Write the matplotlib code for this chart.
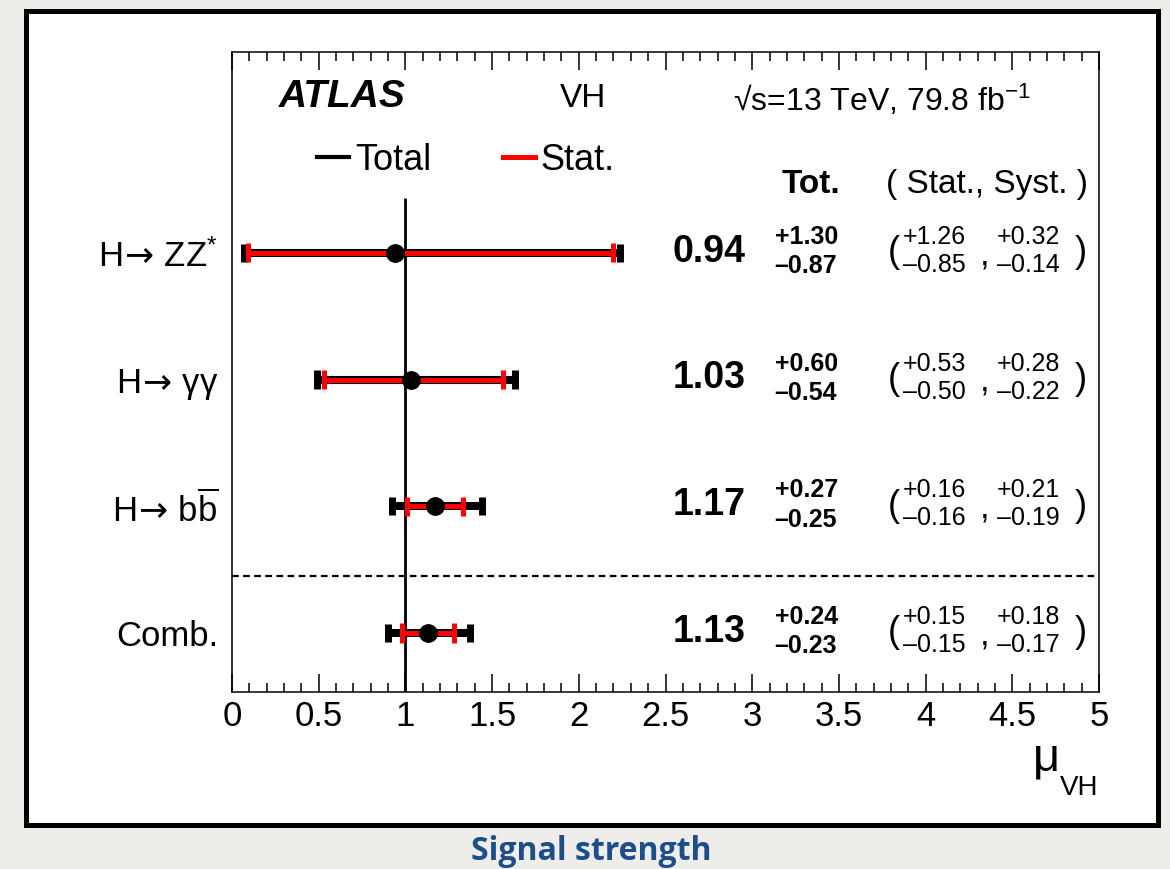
import matplotlib
matplotlib.use("Agg")
import matplotlib.pyplot as plt
from matplotlib.patches import Rectangle
from matplotlib.lines import Line2D

plt.rcParams['font.family'] = ['Liberation Sans', 'DejaVu Sans']
plt.rcParams['mathtext.fontset'] = 'custom'
plt.rcParams['mathtext.rm'] = 'Liberation Sans'
plt.rcParams['mathtext.it'] = 'Liberation Sans:italic'
plt.rcParams['mathtext.bf'] = 'Liberation Sans:bold'
plt.rcParams['mathtext.sf'] = 'DejaVu Sans'
plt.rcParams['mathtext.fallback'] = 'stixsans'

# signal strength per channel (top to bottom)
arrow = "H$\\!\\mathsf{\\rightarrow}\\!$ "
channels = [arrow + "ZZ$^{*}$", arrow + "\u03b3\u03b3",
            arrow + "b$\\overline{\\mathrm{b}}$", "Comb."]
mu = [0.94, 1.03, 1.17, 1.13]
tot_up = [1.30, 0.60, 0.27, 0.24]
tot_dn = [0.87, 0.54, 0.25, 0.23]
stat_up = [1.26, 0.53, 0.16, 0.15]
stat_dn = [0.85, 0.50, 0.16, 0.15]
syst_up = [0.32, 0.28, 0.21, 0.18]
syst_dn = [0.14, 0.22, 0.19, 0.17]

rows = [3, 2, 1, 0]
W, H = 1170, 869

fig = plt.figure(figsize=(W / 100, H / 100), dpi=100)
fig.patch.set_facecolor('#efedea')

# white panel with heavy black frame
frame = Rectangle((25.5 / W, 1 - 825 / H), 1132 / W, 814.5 / H,
                  transform=fig.transFigure, facecolor='white',
                  edgecolor='black', lw=3.6, zorder=-1)
fig.patches.append(frame)

ax = fig.add_axes([232 / W, 1 - 692 / H, 867 / W, 640 / H])
ax.set_zorder(1)
ax.set_xlim(0, 5)
ax.set_ylim(-0.466, 4.585)

for s in ax.spines.values():
    s.set_linewidth(1.1)

ax.set_xticks([0, 0.5, 1, 1.5, 2, 2.5, 3, 3.5, 4, 4.5, 5])
ax.set_xticklabels(['0', '0.5', '1', '1.5', '2', '2.5', '3', '3.5', '4', '4.5', '5'])
ax.set_xticks([i / 10 for i in range(51)], minor=True)
ax.tick_params(axis='x', which='major', direction='in', length=13, width=1.1,
               top=True, labelsize=25, pad=6)
ax.tick_params(axis='x', which='minor', direction='in', length=6.5, width=1.1, top=True)

ax.set_yticks(rows)
ax.set_yticklabels(channels)
ax.tick_params(axis='y', length=0, labelsize=25, pad=10)

# reference line at mu = 1 and separator above the combination
ax.vlines(1, -0.466, 3.43, color='black', lw=2.0, zorder=2)
ax.axhline(0.45, color='black', lw=1.6, ls=(0, (3, 2)), zorder=2)

for i, y in enumerate(rows):
    lo_t, hi_t = mu[i] - tot_dn[i], mu[i] + tot_up[i]
    lo_s, hi_s = mu[i] - stat_dn[i], mu[i] + stat_up[i]
    ax.hlines(y, lo_t, hi_t, color='black', lw=5.8, zorder=3)
    ax.vlines([lo_t, hi_t], y - 0.072, y + 0.072, color='black', lw=5, zorder=3)
    ax.hlines(y, lo_s, hi_s, color='#ff0000', lw=3.6, zorder=4)
    ax.vlines([lo_s, hi_s], y - 0.076, y + 0.076, color='#ff0000', lw=3.6, zorder=4)
    ax.plot(mu[i], y, 'o', color='black', ms=12.5, zorder=5)

    ax.text(2.96, y - 0.07, f"{mu[i]:.2f}", ha='right', va='baseline',
            fontsize=27, fontweight='bold')
    ax.text(3.13, y + 0.07, f"+{tot_up[i]:.2f}", ha='left', va='baseline',
            fontsize=18, fontweight='bold')
    ax.text(3.13, y - 0.16, f"\u2013{tot_dn[i]:.2f}", ha='left', va='baseline',
            fontsize=18, fontweight='bold')
    ax.text(3.78, y, "(", ha='left', va='center', fontsize=26)
    ax.text(3.87, y + 0.07, f"+{stat_up[i]:.2f}", ha='left', va='baseline', fontsize=18)
    ax.text(3.87, y - 0.15, f"\u2013{stat_dn[i]:.2f}", ha='left', va='baseline', fontsize=18)
    ax.text(4.31, y - 0.09, ",", ha='left', va='baseline', fontsize=25)
    ax.text(4.41, y + 0.07, f"+{syst_up[i]:.2f}", ha='left', va='baseline', fontsize=18)
    ax.text(4.41, y - 0.15, f"\u2013{syst_dn[i]:.2f}", ha='left', va='baseline', fontsize=18)
    ax.text(4.86, y, ")", ha='left', va='center', fontsize=26)

# header text
ta = ax.transAxes
ax.text(0.054, 0.914, "ATLAS", transform=ta, fontsize=28, fontweight='bold',
        fontstyle='italic', va='baseline')
ax.text(0.378, 0.914, "VH", transform=ta, fontsize=24, va='baseline')
ax.text(0.578, 0.908, "\u221as=13 TeV, 79.8 fb$^{\\mathrm{-1}}$", transform=ta,
        fontsize=23, va='baseline')
ax.text(0.668, 0.779, "Tot.", transform=ta, fontsize=24, fontweight='bold',
        ha='center', va='baseline')
ax.text(0.871, 0.779, "( Stat., Syst. )", transform=ta, fontsize=24,
        ha='center', va='baseline')

# legend
ax.add_line(Line2D([0.098, 0.135], [0.836, 0.836], transform=ta, color='black', lw=3))
ax.text(0.142, 0.816, "Total", transform=ta, fontsize=26, va='baseline')
ax.add_line(Line2D([0.3126, 0.3495], [0.836, 0.836], transform=ta, color='#ff0000', lw=3.6))
ax.text(0.356, 0.816, "Stat.", transform=ta, fontsize=26, va='baseline')

# axis title
ax.text(0.924, -0.122, "\u03bc", transform=ta, fontsize=34, va='baseline')
ax.text(0.955, -0.161, "VH", transform=ta, fontsize=20, va='baseline')

fig.text(591 / W, 1 - 852 / H, "Signal strength", ha='center', va='center',
         fontsize=23, fontweight='bold', color='#1c4e8c',
         family=['Open Sans', 'DejaVu Sans'])

fig.savefig('out.png', dpi=100, facecolor=fig.get_facecolor())
